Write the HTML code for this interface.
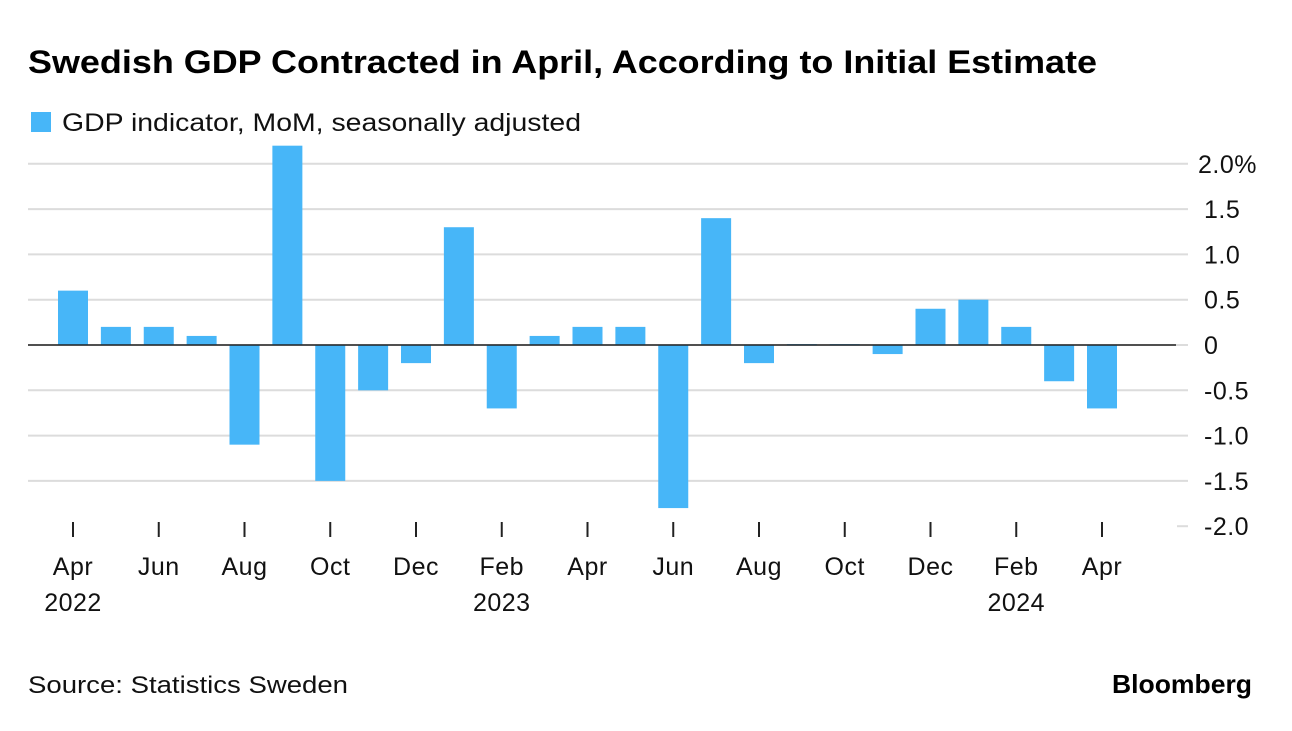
<!DOCTYPE html>
<html><head><meta charset="utf-8"><style>
body{margin:0;background:#fff;width:1292px;height:726px;overflow:hidden;font-family:"Liberation Sans",sans-serif;}
</style></head><body>
<svg width="1292" height="726" xmlns="http://www.w3.org/2000/svg" font-family="Liberation Sans, sans-serif">
<text x="28" y="73" font-size="32" font-weight="bold" fill="#000" textLength="1069" lengthAdjust="spacingAndGlyphs">Swedish GDP Contracted in April, According to Initial Estimate</text>
<rect x="31" y="112" width="20" height="20" fill="#47b6f8"/>
<text x="62" y="131" font-size="25" fill="#111" textLength="519" lengthAdjust="spacingAndGlyphs">GDP indicator, MoM, seasonally adjusted</text>
<g id="grid"></g><g id="bars"></g><g id="xaxis"></g><g id="yaxis"></g>
<text x="28" y="693" font-size="24" fill="#111" textLength="320" lengthAdjust="spacingAndGlyphs">Source: Statistics Sweden</text>
<text x="1252" y="693" font-size="26" font-weight="bold" text-anchor="end" fill="#000" textLength="140" lengthAdjust="spacingAndGlyphs">Bloomberg</text>
</svg>
<script>
const categories=["Apr 2022","May","Jun","Jul","Aug","Sep","Oct","Nov","Dec","Jan 2023","Feb","Mar","Apr","May","Jun","Jul","Aug","Sep","Oct","Nov","Dec","Jan 2024","Feb","Mar","Apr"];
const values=[0.6,0.2,0.2,0.1,-1.1,2.2,-1.5,-0.5,-0.2,1.3,-0.7,0.1,0.2,0.2,-1.8,1.4,-0.2,0.01,0.01,-0.1,0.4,0.5,0.2,-0.4,-0.7];
const yTicks=[2,1.5,1,0.5,0,-0.5,-1,-1.5,-2];
const yTickLabels=["2.0%","1.5","1.0","0.5","0","-0.5","-1.0","-1.5","-2.0"];
const xLabelIdx=[0,2,4,6,8,10,12,14,16,18,20,22,24];
const xLabels=["Apr","Jun","Aug","Oct","Dec","Feb","Apr","Jun","Aug","Oct","Dec","Feb","Apr"];
const yearLabels={0:"2022",10:"2023",22:"2024"};
const NS="http://www.w3.org/2000/svg";
const y=v=>345-v*90.6;
const x=i=>73+i*(1102-73)/24;
function mk(t,a,p){const e=document.createElementNS(NS,t);for(const k in a)e.setAttribute(k,a[k]);p.appendChild(e);return e;}
const grid=document.getElementById('grid'),bars=document.getElementById('bars'),xa=document.getElementById('xaxis'),ya=document.getElementById('yaxis');
yTicks.forEach((v,i)=>{
 const l=mk('line',{x1:v===-2?1177:28,x2:1188,y1:y(v),y2:y(v),stroke:'#dcdcdc','stroke-width':2},grid);
 
 
 const t=mk('text',{x:i===0?1198:1204,y:y(v)+9,'font-size':25,'letter-spacing':'0.5',fill:'#111'},ya);
 t.textContent=yTickLabels[i];
 
 
});
values.forEach((v,i)=>{
 const r=mk('rect',{x:x(i)-15,y:Math.min(y(v),y(0)),width:30,height:Math.max(Math.abs(y(v)-y(0)),1.5),fill:'#47b6f8'},bars);
 
 
});
const z=mk('line',{x1:28,x2:1176,y1:y(0),y2:y(0),stroke:'#222','stroke-width':1.5},bars);


xLabelIdx.forEach((idx,k)=>{
 const tk=mk('line',{x1:x(idx),x2:x(idx),y1:522,y2:537,stroke:'#222','stroke-width':2},xa);
 
 
 const t=mk('text',{x:x(idx),y:575,'font-size':25,'letter-spacing':'0.5','text-anchor':'middle',fill:'#111'},xa);
 t.textContent=xLabels[k];
 
 
 if(yearLabels[idx]){const yt=mk('text',{x:x(idx),y:611,'font-size':25,'letter-spacing':'0.5','text-anchor':'middle',fill:'#111'},xa);
 yt.textContent=yearLabels[idx];
 
 }
});
</script>
</body></html>
